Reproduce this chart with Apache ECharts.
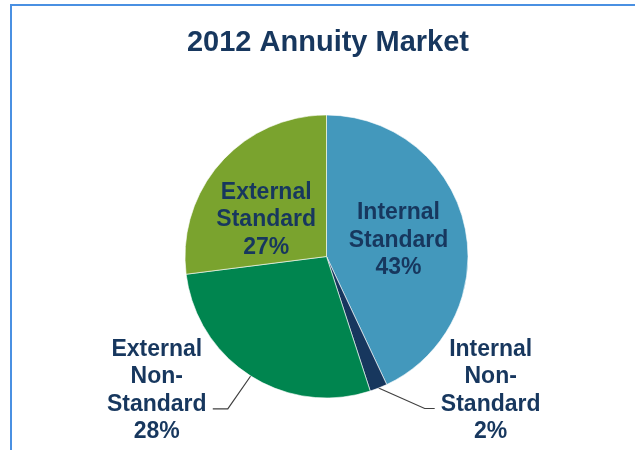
<!DOCTYPE html>
<html>
<head>
<meta charset="utf-8">
<script src="https://cdn.jsdelivr.net/npm/echarts@6/dist/echarts.min.js"></script>
<style>
  html, body { margin: 0; padding: 0; background: #fff; }
  #chart { width: 635px; height: 450px; }
</style>
</head>
<body>
<div id="chart"></div>
<script>
// Market segments, clockwise from 12 o'clock
const categories = ['Internal Standard', 'Internal Non-Standard', 'External Non-Standard', 'External Standard'];
const labelLines = [['Internal', 'Standard'], ['Internal', 'Non-', 'Standard'], ['External', 'Non-', 'Standard'], ['External', 'Standard']];
const shares = [43, 2, 28, 27];
const titleText = '2012 Annuity Market';

const colors = ['#4398BC', '#17375E', '#00854F', '#7AA32E'];
const textColor = '#17375E';
const fontFamily = '"Liberation Sans", Arial, sans-serif';

// Per-segment label placement: large slices carry their label inside,
// thin/bottom slices get a leader line to an outside label.
const labelPlacement = [
  { inside: true, padding: [0, 0, 0, 0] },
  { inside: false, length: 22, length2: 48 },
  { inside: false, length: 39, length2: 17 },
  { inside: true, padding: [24, 10, 0, 0] }
];

function labelFormatter(idx) {
  const parts = labelLines[idx].map(function (s) { return '{t|' + s + '}'; });
  parts.push('{t|' + shares[idx] + '%}');
  return parts.join('\n');
}

const seriesData = categories.map(function (name, i) {
  const p = labelPlacement[i];
  const item = {
    name: name,
    value: shares[i],
    itemStyle: { color: colors[i] }
  };
  if (p.inside) {
    item.label = { position: 'inside', padding: p.padding, formatter: labelFormatter(i) };
    item.labelLine = { show: false };
  } else {
    item.label = { position: 'outside', padding: [0, 0, 36, 0], formatter: labelFormatter(i) };
    item.labelLine = { show: true, length: p.length, length2: p.length2 };
  }
  return item;
});

// Bend each leader line: a diagonal run from the slice edge, then a short
// horizontal tail into the label.
function bendLeader(params) {
  const pts = params.labelLinePoints;
  if (!pts || pts.length < 3) return {};
  const start = pts[0];
  const end = pts[pts.length - 1];
  const dir = end[0] > start[0] ? 1 : -1;
  const tail = dir > 0 ? 10 : 15;
  return { labelLinePoints: [start, [end[0] - dir * tail, end[1]], end] };
}

const chart = echarts.init(document.getElementById('chart'), null, { renderer: 'canvas' });
chart.setOption({
  animation: false,
  backgroundColor: '#ffffff',
  title: {
    text: titleText,
    left: 323,
    top: 23,
    textAlign: 'center',
    textStyle: { fontFamily: fontFamily, fontSize: 29, fontWeight: 'bold', color: textColor }
  },
  graphic: [{
    type: 'rect',
    shape: { x: 11, y: 5, width: 700, height: 600 },
    style: { fill: 'none', stroke: '#4A90E2', lineWidth: 2 },
    silent: true
  }],
  series: [{
    type: 'pie',
    center: [326.5, 256.5],
    radius: [0, 141.5],
    startAngle: 90,
    clockwise: true,
    avoidLabelOverlap: false,
    itemStyle: { borderColor: '#ffffff', borderWidth: 0.6 },
    label: {
      color: textColor,
      fontFamily: fontFamily,
      fontWeight: 'bold',
      fontSize: 23,
      distanceToLabelLine: 4,
      rich: {
        t: {
          width: 104,
          align: 'center',
          color: textColor,
          fontFamily: fontFamily,
          fontWeight: 'bold',
          fontSize: 23,
          lineHeight: 27.5
        }
      }
    },
    labelLine: {
      lineStyle: { color: '#404040', width: 1.2 }
    },
    labelLayout: bendLeader,
    emphasis: { disabled: true },
    data: seriesData
  }]
});
</script>
</body>
</html>
